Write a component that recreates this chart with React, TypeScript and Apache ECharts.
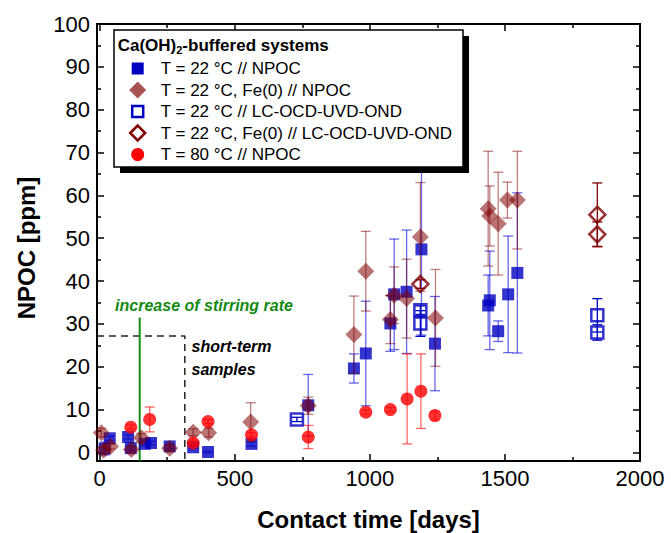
import React, { useEffect, useRef } from "react";
import * as echarts from "echarts";

const FONT = "'Liberation Sans', Arial, Helvetica, sans-serif";

// T = 22 °C // NPOC (filled blue squares)
const npocDays = [18, 37, 105, 115, 167, 190, 259, 346, 401, 562, 772, 941, 985, 1076, 1090, 1136, 1191, 1241, 1438, 1444, 1475, 1512, 1546];
const npocValues = [0.9, 3.3, 3.6, 1.0, 2.0, 2.2, 1.4, 1.2, 0.1, 2.0, 11.0, 19.6, 23.1, 30.1, 36.9, 37.5, 47.4, 25.4, 34.3, 35.5, 28.3, 36.9, 41.9];
const npocErrors = [1.5, 0.5, 0.5, 0.5, 0.4, 0.4, 0.5, 0.3, 0.2, 0.5, 7.2, 3.4, 12.2, 6.5, 12.9, 14.4, 20.0, 11.0, 7.1, 11.5, 2.4, 13.6, 18.7];

// T = 22 °C, Fe(0) // NPOC (filled diamonds)
const feDays = [6, 14, 40, 117, 154, 259, 346, 403, 559, 772, 941, 985, 1076, 1090, 1136, 1187, 1243, 1438, 1444, 1475, 1509, 1546];
const feValues = [4.6, 0.5, 1.4, 0.7, 3.4, 1.0, 4.7, 4.6, 7.1, 10.9, 27.5, 42.3, 31.0, 36.7, 35.9, 50.3, 31.4, 56.9, 55.2, 53.4, 58.9, 58.9];
const feErrors = [1.0, 0.8, 0.6, 0.6, 1.0, 0.6, 0.8, 1.0, 4.5, 2.0, 9.0, 9.3, 5.6, 6.6, 9.2, 12.7, 11.3, 13.4, 7.0, 12.0, 4.2, 11.4];

// T = 22 °C // LC-OCD-UVD-OND (open squares)
const lcDays = [730, 1187, 1187, 1842, 1842];
const lcValues = [7.7, 33.2, 30.1, 32.0, 28.0];
const lcErrors = [0.5, 1.0, 3.0, 3.9, 1.8];

// T = 22 °C, Fe(0) // LC-OCD-UVD-OND (open diamonds)
const lcFeDays = [1187, 1842, 1842];
const lcFeValues = [39.3, 55.5, 50.9];
const lcFeErrors = [1.0, 7.4, 2.9];

// T = 80 °C // NPOC (red circles)
const hotDays = [115, 185, 346, 401, 562, 772, 985, 1076, 1138, 1189, 1241];
const hotValues = [5.9, 7.7, 2.2, 7.2, 4.1, 3.6, 9.4, 10.0, 12.5, 14.3, 8.6];
const hotErrors = [0.5, 2.9, 0.5, 0.5, 0.5, 2.7, 0.5, 0.5, 10.5, 8.7, 1.0];

// Axis ticks
const xMajorTicks = [0, 500, 1000, 1500, 2000];
const xMinorTicks = [250, 750, 1250, 1750];
const yMajorTicks = [0, 10, 20, 30, 40, 50, 60, 70, 80, 90, 100];
const yMinorTicks = [5, 15, 25, 35, 45, 55, 65, 75, 85, 95];

// Annotations
const stirringDay = 148;
const stirringLine = [[stirringDay, 31.5], [stirringDay, -2]];
const shortTermBox = [[-10, 27.2], [315, 27.2], [315, -2]];

const legendItems = [
  "T = 22 °C // NPOC",
  "T = 22 °C, Fe(0) // NPOC",
  "T = 22 °C // LC-OCD-UVD-OND",
  "T = 22 °C, Fe(0) // LC-OCD-UVD-OND",
  "T = 80 °C // NPOC",
];

const BLUE = "#0000c0";
const WINE = "rgba(128,0,0,0.68)";
const DARK_RED = "#800000";
const RED = "#ff0000";
const GREEN = "#138a13";

const zip3 = (a: number[], b: number[], c: number[]) => a.map((v, i) => [v, b[i], c[i]]);
const zip2 = (a: number[], b: number[]) => a.map((v, i) => [v, b[i]]);

function errorSeries(data: number[][], color: string, z: number) {
  return {
    type: "custom",
    xAxisIndex: 0,
    yAxisIndex: 0,
    z,
    silent: true,
    encode: { x: 0, y: 1 },
    data,
    renderItem: (_params: any, api: any) => {
      const x = api.value(0);
      const y = api.value(1);
      const e = api.value(2);
      const lo = api.coord([x, y - e]);
      const hi = api.coord([x, y + e]);
      const hw = 5;
      const style = { stroke: color, lineWidth: 1.3, fill: "none" };
      return {
        type: "group",
        children: [
          { type: "line", shape: { x1: lo[0], y1: lo[1], x2: hi[0], y2: hi[1] }, style },
          { type: "line", shape: { x1: lo[0] - hw, y1: lo[1], x2: lo[0] + hw, y2: lo[1] }, style },
          { type: "line", shape: { x1: hi[0] - hw, y1: hi[1], x2: hi[0] + hw, y2: hi[1] }, style },
        ],
      };
    },
  };
}

function majorAxis(pos: string, min: number, max: number, ticks: number[], labels: boolean, margin: number) {
  return {
    type: "value",
    gridIndex: 0,
    position: pos,
    min,
    max,
    axisLine: { show: true, onZero: false, lineStyle: { color: "#000", width: 2 } },
    axisTick: { show: true, inside: true, length: 7, customValues: ticks, lineStyle: { color: "#000", width: 1.5 } },
    axisLabel: {
      show: labels,
      customValues: ticks,
      formatter: (v: number) => String(v),
      fontSize: 22,
      fontFamily: FONT,
      color: "#000",
      margin,
    },
    splitLine: { show: false },
  };
}

function minorAxis(pos: string, min: number, max: number, ticks: number[]) {
  return {
    type: "value",
    gridIndex: 1,
    position: pos,
    min,
    max,
    axisLine: { show: false, onZero: false },
    axisTick: { show: true, inside: true, length: 4, customValues: ticks, lineStyle: { color: "#000", width: 1.5 } },
    axisLabel: { show: false },
    splitLine: { show: false },
  };
}

const GRID = { left: 97, right: 31, top: 24, bottom: 72 };

export default function App() {
  const ref = useRef<HTMLDivElement>(null);

  useEffect(() => {
    if (!ref.current) return;
    const chart = echarts.init(ref.current, null, { renderer: "svg" });

    const option: any = {
      animation: false,
      backgroundColor: "#fff",
      grid: [{ ...GRID }, { ...GRID }],
      xAxis: [
        majorAxis("bottom", -10, 2000, xMajorTicks, true, 6),
        majorAxis("top", -10, 2000, xMajorTicks, false, 6),
        minorAxis("bottom", -10, 2000, xMinorTicks),
        minorAxis("top", -10, 2000, xMinorTicks),
      ],
      yAxis: [
        majorAxis("left", -2, 100, yMajorTicks, true, 7),
        majorAxis("right", -2, 100, yMajorTicks, false, 7),
        minorAxis("left", -2, 100, yMinorTicks),
        minorAxis("right", -2, 100, yMinorTicks),
      ],
      series: [
        {
          type: "line",
          xAxisIndex: 0,
          yAxisIndex: 0,
          z: 1,
          data: shortTermBox,
          symbol: "none",
          silent: true,
          lineStyle: { color: "#222", width: 1.5, type: [7, 5] },
        },
        {
          type: "line",
          xAxisIndex: 0,
          yAxisIndex: 0,
          z: 1,
          data: stirringLine,
          symbol: "none",
          silent: true,
          lineStyle: { color: GREEN, width: 2 },
        },
        errorSeries(zip3(npocDays, npocValues, npocErrors), "rgba(0,0,220,0.6)", 2),
        {
          type: "scatter",
          xAxisIndex: 0,
          yAxisIndex: 0,
          z: 3,
          symbol: "rect",
          symbolSize: 12,
          itemStyle: { color: BLUE },
          data: zip2(npocDays, npocValues),
        },
        errorSeries(zip3(feDays, feValues, feErrors), "rgba(128,0,0,0.5)", 4),
        {
          type: "scatter",
          xAxisIndex: 0,
          yAxisIndex: 0,
          z: 5,
          symbol: "diamond",
          symbolSize: [17, 17],
          itemStyle: { color: WINE },
          data: zip2(feDays, feValues),
        },
        errorSeries(zip3(lcDays, lcValues, lcErrors), BLUE, 6),
        {
          type: "scatter",
          xAxisIndex: 0,
          yAxisIndex: 0,
          z: 7,
          symbol: "rect",
          symbolSize: 12,
          itemStyle: { color: "rgba(0,0,0,0)", borderColor: BLUE, borderWidth: 2.5 },
          data: zip2(lcDays, lcValues),
        },
        errorSeries(zip3(lcFeDays, lcFeValues, lcFeErrors), DARK_RED, 6),
        {
          type: "scatter",
          xAxisIndex: 0,
          yAxisIndex: 0,
          z: 7,
          symbol: "diamond",
          symbolSize: [16, 16],
          itemStyle: { color: "rgba(0,0,0,0)", borderColor: DARK_RED, borderWidth: 2.5 },
          data: zip2(lcFeDays, lcFeValues),
        },
        errorSeries(zip3(hotDays, hotValues, hotErrors), "rgba(255,0,0,0.6)", 8),
        {
          type: "scatter",
          xAxisIndex: 0,
          yAxisIndex: 0,
          z: 9,
          symbol: "circle",
          symbolSize: 13,
          itemStyle: { color: RED },
          data: zip2(hotDays, hotValues),
        },
      ],
    };

    chart.setOption(option);

    const toPx = (p: number[]) => chart.convertToPixel({ gridIndex: 0 } as any, p) as number[];

    // Legend box (drawn by hand, with drop shadow)
    const lx = 114, ly = 30, lw = 349, lh = 137;
    const mx = 137.7, tx = 160.7;
    const rowY = (i: number) => 68.5 + i * 21.5;
    const d = 8.5;
    const legendMarkers: any[] = [
      { type: "rect", shape: { x: mx - 6, y: rowY(0) - 6, width: 12, height: 12 }, style: { fill: BLUE } },
      {
        type: "polygon",
        shape: { points: [[mx - d, rowY(1)], [mx, rowY(1) - d], [mx + d, rowY(1)], [mx, rowY(1) + d]] },
        style: { fill: WINE },
      },
      {
        type: "rect",
        shape: { x: mx - 5.5, y: rowY(2) - 5.5, width: 11, height: 11 },
        style: { fill: "#fff", stroke: BLUE, lineWidth: 2.5 },
      },
      {
        type: "polygon",
        shape: { points: [[mx - 7.5, rowY(3)], [mx, rowY(3) - 7.5], [mx + 7.5, rowY(3)], [mx, rowY(3) + 7.5]] },
        style: { fill: "#fff", stroke: DARK_RED, lineWidth: 2.5 },
      },
      { type: "circle", shape: { cx: mx, cy: rowY(4), r: 6.5 }, style: { fill: RED } },
    ];

    const legend: any[] = [
      { type: "rect", z: 100, shape: { x: lx + 6, y: ly + 6, width: lw, height: lh }, style: { fill: "#000" } },
      {
        type: "rect",
        z: 101,
        shape: { x: lx, y: ly, width: lw, height: lh },
        style: { fill: "#fff", stroke: "#000", lineWidth: 1.5 },
      },
      {
        type: "text",
        z: 102,
        x: 117.7,
        y: 45,
        style: {
          text: "{b|Ca(OH)}{s|2}{b|-buffered systems}",
          verticalAlign: "middle",
          align: "left",
          rich: {
            b: { fontSize: 17, fontWeight: "bold", fontFamily: FONT, fill: "#000", lineHeight: 20, verticalAlign: "middle" },
            s: { fontSize: 11, fontWeight: "bold", fontFamily: FONT, fill: "#000", lineHeight: 20, padding: [9, 0, 0, 0] },
          },
        },
      },
      ...legendMarkers.map((m) => ({ ...m, z: 102 })),
      ...legendItems.map((t, i) => ({
        type: "text",
        z: 102,
        x: tx,
        y: rowY(i),
        style: { text: t, fontSize: 17, fontFamily: FONT, fill: "#000", align: "left", verticalAlign: "middle" },
      })),
    ];

    const gPos = toPx([57, 34.3]);
    const s1 = toPx([340, 24.7]);
    const s2 = toPx([340, 19.4]);

    const italic = (text: string, fill: string, p: number[]) => ({
      type: "text",
      z: 50,
      x: p[0],
      y: p[1],
      style: {
        text,
        fontSize: 16,
        fontWeight: "bold",
        fontStyle: "italic",
        fontFamily: FONT,
        fill,
        align: "left",
        verticalAlign: "middle",
      },
    });

    const annotations: any[] = [
      italic("increase of stirring rate", GREEN, gPos),
      italic("short-term", "#000", s1),
      italic("samples", "#000", s2),
      {
        type: "text",
        x: 368.5,
        y: 519,
        style: {
          text: "Contact time [days]",
          fontSize: 24,
          fontWeight: "bold",
          fontFamily: FONT,
          fill: "#000",
          align: "center",
          verticalAlign: "middle",
        },
      },
      {
        type: "text",
        x: 26,
        y: 248,
        rotation: Math.PI / 2,
        style: {
          text: "NPOC [ppm]",
          fontSize: 24,
          fontWeight: "bold",
          fontFamily: FONT,
          fill: "#000",
          align: "center",
          verticalAlign: "middle",
        },
      },
    ];

    chart.setOption({ graphic: [...legend, ...annotations] });

    return () => chart.dispose();
  }, []);

  return (
    <div
      ref={ref}
      style={{ position: "absolute", left: 0, top: 0, width: 671, height: 533, background: "#fff" }}
    />
  );
}
